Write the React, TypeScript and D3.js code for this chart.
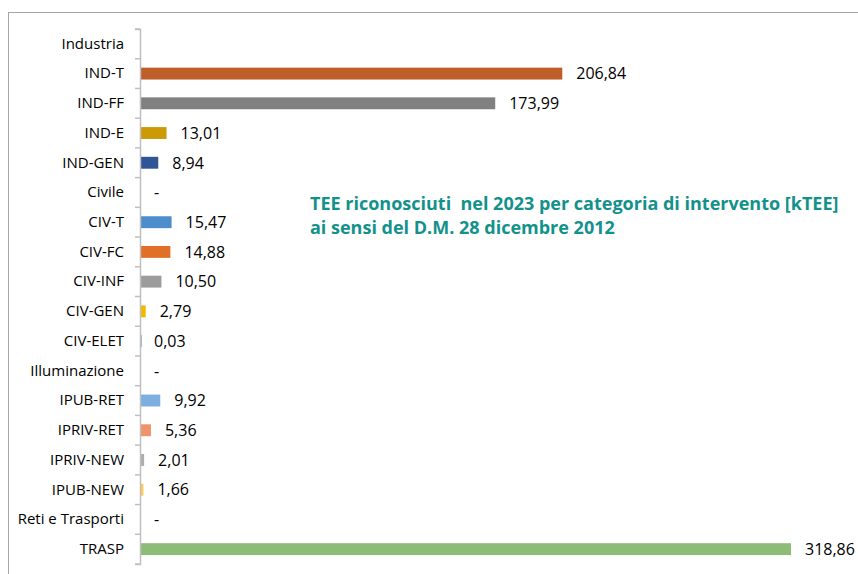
import React, { useEffect, useRef } from "react";
import * as d3 from "d3";

// chart data
const categories = [
  "Industria", "IND-T", "IND-FF", "IND-E", "IND-GEN",
  "Civile", "CIV-T", "CIV-FC", "CIV-INF", "CIV-GEN", "CIV-ELET",
  "Illuminazione", "IPUB-RET", "IPRIV-RET", "IPRIV-NEW", "IPUB-NEW",
  "Reti e Trasporti", "TRASP",
];
const values = [
  null, 206.84, 173.99, 13.01, 8.94,
  null, 15.47, 14.88, 10.5, 2.79, 0.03,
  null, 9.92, 5.36, 2.01, 1.66,
  null, 318.86,
];
// label shown for empty rows ("" for the first group header)
const emptyLabels = ["", "-", "-", "-"];
const colors = [
  "none", "#BE5F2A", "#808080", "#CC9A06", "#2F5597",
  "none", "#4E8DCB", "#E07028", "#9C9C9C", "#F2B800", "#4472C4",
  "none", "#7EAEE0", "#F0936A", "#ADADAD", "#FFC94D",
  "none", "#8DBB78",
];
const titleLines = [
  "TEE riconosciuti  nel 2023 per categoria di intervento [kTEE]",
  "ai sensi del D.M. 28 dicembre 2012",
];

const W = 858, H = 574;
const FONT = "Open Sans, Noto Sans, sans-serif";

export default function App() {
  const ref = useRef<SVGSVGElement>(null);

  useEffect(() => {
    const svg = d3.select(ref.current);
    svg.selectAll("*").remove();

    // outer frame
    svg.append("rect")
      .attr("x", 8.5).attr("y", 12.5)
      .attr("width", 900).attr("height", 700)
      .attr("fill", "white")
      .attr("stroke", "#A6A6A6").attr("stroke-width", 1);

    const x = d3.scaleLinear().domain([0, 318.86]).range([140, 791]);
    const y = d3.scaleBand<string>().domain(categories).range([29, 564]).padding(0);
    const barH = y.bandwidth() * 0.4;

    const g = svg.append("g");

    // bars
    g.selectAll("rect.bar")
      .data(categories)
      .join("rect")
      .attr("class", "bar")
      .attr("x", x(0))
      .attr("y", (d) => y(d)! + (y.bandwidth() - barH) / 2)
      .attr("width", (d, i) => (values[i] == null ? 0 : Math.max(1.5, x(values[i]!) - x(0))))
      .attr("height", barH)
      .attr("fill", (d, i) => colors[i]);

    // value labels
    const fmt = (v: number) => v.toFixed(2).replace(".", ",");
    let k = 0;
    const labels = values.map((v) => (v == null ? emptyLabels[k++] : fmt(v)));
    g.selectAll("text.val")
      .data(categories)
      .join("text")
      .attr("class", "val")
      .attr("x", (d, i) => (values[i] == null ? 154 : x(values[i]!) + 14))
      .attr("y", (d) => y(d)! + y.bandwidth() / 2)
      .attr("dy", "0.36em")
      .attr("font-family", FONT)
      .attr("font-size", 16)
      .attr("fill", "#000")
      .text((d, i) => labels[i]);

    // y axis
    const axis = d3.axisLeft(y).tickSize(5).tickSizeOuter(5).tickPadding(12).tickFormat((d) => d);
    const ag = g.append("g").attr("transform", `translate(${x(0)},0)`).call(axis);
    ag.selectAll(".tick line").remove();
    ag.select(".domain").attr("stroke", "#BFBFBF").attr("stroke-width", 1.5);
    ag.selectAll(".tick text")
      .attr("font-family", FONT)
      .attr("font-size", 15)
      .attr("fill", "#000")
      .attr("x", -16);
    // tick marks at band boundaries
    const bounds = categories.map((c) => y(c)!).concat([y.range()[1]]);
    ag.selectAll("line.bt")
      .data(bounds)
      .join("line")
      .attr("class", "bt")
      .attr("x1", -5).attr("x2", 0)
      .attr("y1", (d) => d).attr("y2", (d) => d)
      .attr("stroke", "#BFBFBF").attr("stroke-width", 1.5);

    // title
    svg.append("text")
      .attr("x", 310).attr("y", 210)
      .attr("font-family", FONT)
      .attr("font-size", 18)
      .attr("font-weight", "bold")
      .attr("fill", "#13918B")
      .selectAll("tspan")
      .data(titleLines)
      .join("tspan")
      .attr("x", 310)
      .attr("dy", (d, i) => (i === 0 ? 0 : 24))
      .style("white-space", "pre")
      .text((d) => d);
  }, []);

  return (
    <svg
      ref={ref}
      width={W}
      height={H}
      style={{ position: "absolute", left: 0, top: 0, background: "white" }}
    />
  );
}
